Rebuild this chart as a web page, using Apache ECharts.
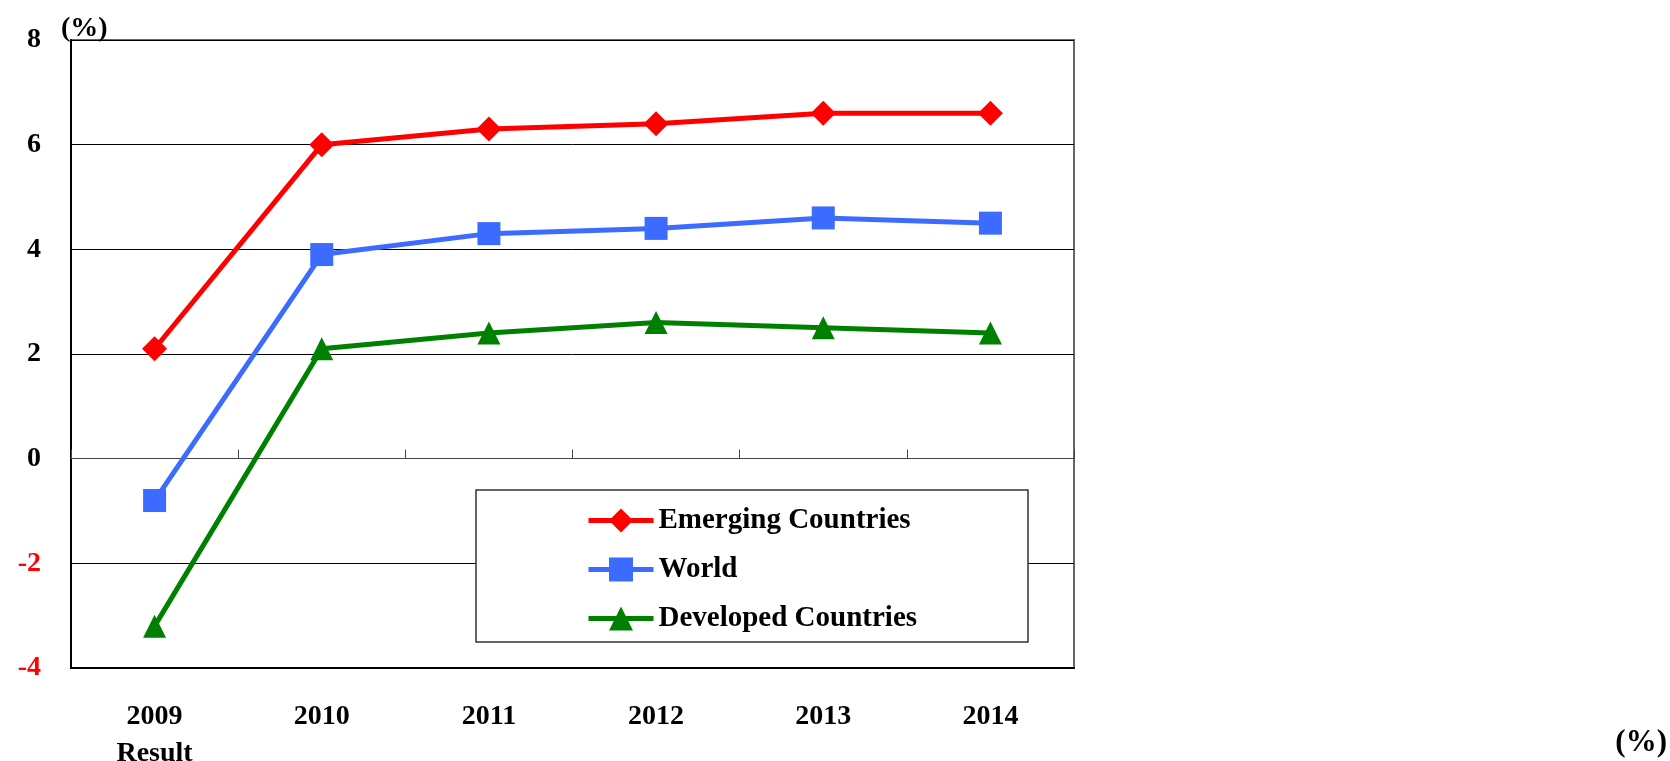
<!DOCTYPE html>
<html>
<head>
<meta charset="utf-8">
<script src="https://cdn.jsdelivr.net/npm/echarts@6/dist/echarts.min.js"></script>
<style>
  html, body { margin: 0; padding: 0; background: #fff; }
  #chart { width: 1670px; height: 761px; }
</style>
</head>
<body>
<div id="chart"></div>
<script>
// Real GDP growth outlook (%), 2009 result and forecasts to 2014
const years = ['2009', '2010', '2011', '2012', '2013', '2014'];
const yearLabels = ['2009\nResult', '2010', '2011', '2012', '2013', '2014'];
const emerging = [2.1, 6.0, 6.3, 6.4, 6.6, 6.6];
const world = [-0.8, 3.9, 4.3, 4.4, 4.6, 4.5];
const developed = [-3.2, 2.1, 2.4, 2.6, 2.5, 2.4];
const yTicks = [-4, -2, 0, 2, 4, 6, 8];

const FONT = '"Liberation Serif", "Times New Roman", serif';

const chart = echarts.init(document.getElementById('chart'));

function lineSeries(name, data, color, symbol) {
  return {
    name: name,
    type: 'line',
    data: data,
    xAxisIndex: 0,
    symbol: symbol,
    symbolSize: symbol === 'diamond' ? 25 : 23,
    lineStyle: { color: color, width: 5 },
    itemStyle: { color: color },
    z: 2
  };
}

chart.setOption({
  animation: false,
  backgroundColor: '#fff',
  grid: {
    left: 71, right: 596, top: 40, bottom: 93,
    outerBoundsMode: 'none',
    show: true, borderColor: '#666', borderWidth: 2, backgroundColor: 'transparent'
  },
  xAxis: [
    {
      type: 'category',
      data: yearLabels,
      boundaryGap: true,
      position: 'bottom',
      axisLine: { onZero: false, lineStyle: { color: '#000', width: 2 } },
      axisTick: { show: false },
      axisLabel: {
        margin: 30,
        fontFamily: FONT, fontWeight: 'bold', fontSize: 28, color: '#000',
        lineHeight: 37, verticalAlign: 'top'
      },
      splitLine: { show: false }
    },
    {
      type: 'category',
      data: years,
      boundaryGap: true,
      position: 'bottom',
      axisLine: { onZero: true, lineStyle: { color: '#444', width: 1 } },
      axisTick: { show: true, inside: true, length: 9, lineStyle: { color: '#444', width: 1 } },
      axisLabel: { show: false },
      splitLine: { show: false }
    }
  ],
  yAxis: {
    type: 'value',
    min: yTicks[0],
    max: yTicks[yTicks.length - 1],
    interval: 2,
    axisLine: { show: true, lineStyle: { color: '#000', width: 2 } },
    axisTick: { show: false },
    axisLabel: {
      margin: 30,
      fontFamily: FONT, fontWeight: 'bold', fontSize: 28,
      color: function (v) { return v < 0 ? '#ff0000' : '#000'; }
    },
    splitLine: { show: true, lineStyle: { color: '#000', width: 1 } }
  },
  legend: {
    orient: 'vertical',
    left: 581,
    top: 501,
    itemWidth: 65,
    itemHeight: 30,
    itemGap: 20,
    z: 10,
    lineStyle: { width: 5 },
    textStyle: { fontFamily: FONT, fontWeight: 'bold', fontSize: 29, color: '#000' },
    data: ['Emerging Countries', 'World', 'Developed Countries']
  },
  graphic: [
    {
      type: 'rect', z: 3,
      shape: { x: 476, y: 490, width: 552, height: 152 },
      style: { fill: '#fff', stroke: '#333', lineWidth: 1.5 }
    },
    {
      type: 'text', left: 61, top: 15, z: 5,
      style: { text: '(%)', fontFamily: FONT, fontWeight: 'bold', fontSize: 28, fill: '#000' }
    },
    {
      type: 'text', right: 3, top: 727, z: 5,
      style: { text: '(%)', fontFamily: FONT, fontWeight: 'bold', fontSize: 31, fill: '#000' }
    }
  ],
  series: [
    lineSeries('Emerging Countries', emerging, '#ff0000', 'diamond'),
    lineSeries('World', world, '#3b6cff', 'rect'),
    lineSeries('Developed Countries', developed, '#008000', 'triangle')
  ]
});
</script>
</body>
</html>
